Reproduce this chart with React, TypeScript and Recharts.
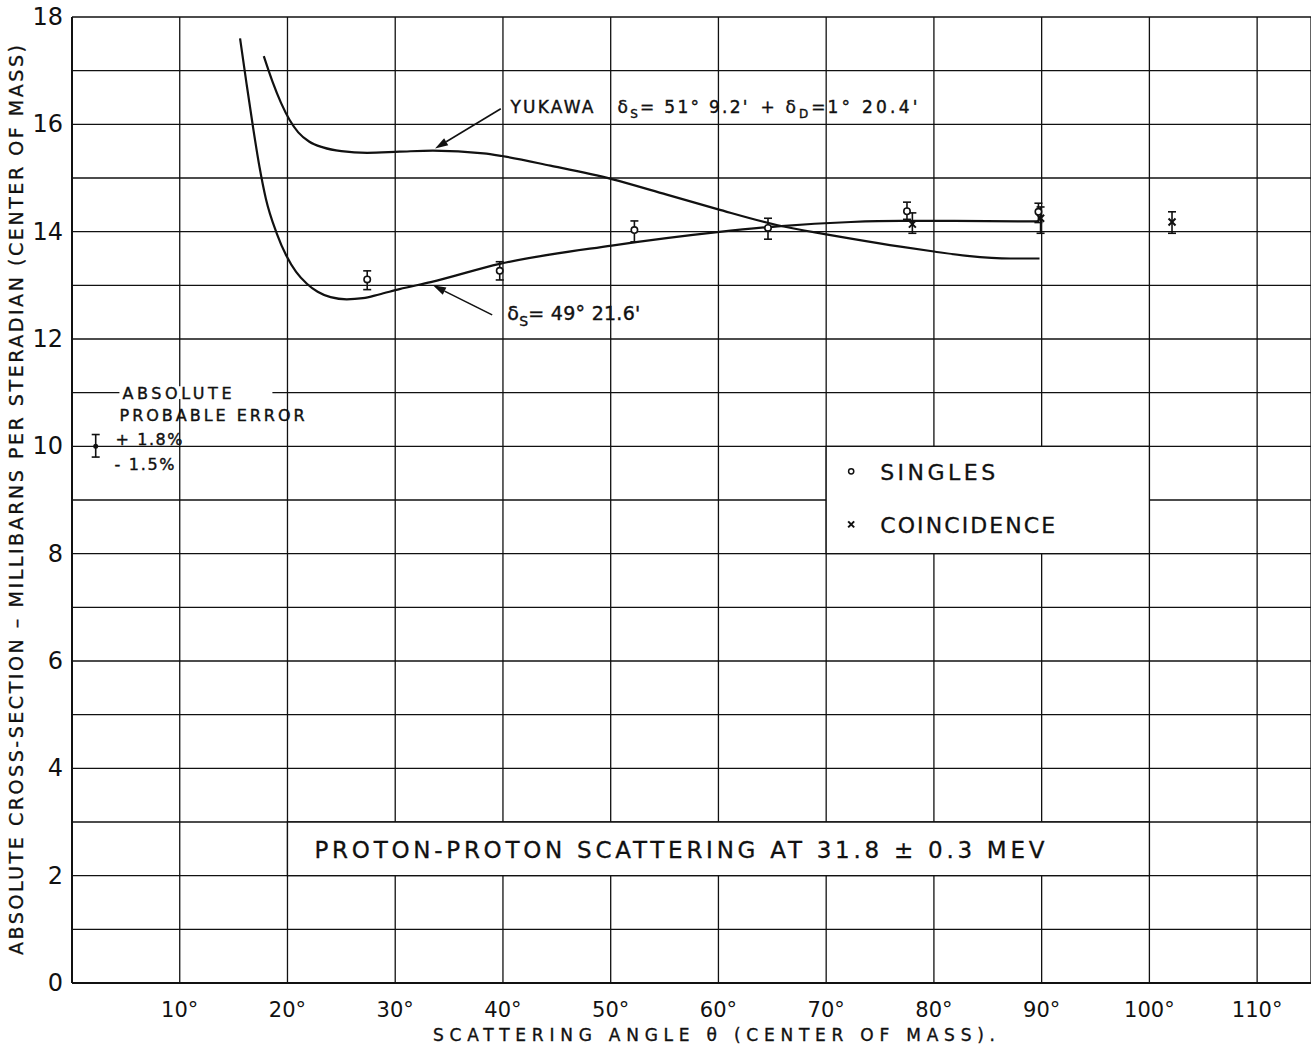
import React from 'react';
import {
  ComposedChart,
  Line,
  Scatter,
  XAxis,
  YAxis,
  CartesianGrid,
  ErrorBar,
  ReferenceArea,
  ReferenceDot,
  ReferenceLine,
  Label,
} from 'recharts';

const FONT = '"DejaVu Sans", "Liberation Sans", sans-serif';
const INK = '#111';

// axis ticks
const angleTicks = [10, 20, 30, 40, 50, 60, 70, 80, 90, 100, 110];
const sigmaTicks = [0, 1, 2, 3, 4, 5, 6, 7, 8, 9, 10, 11, 12, 13, 14, 15, 16, 17, 18];
const sigmaLabels = [0, 2, 4, 6, 8, 10, 12, 14, 16, 18];

// phase shift fit  deltaS = 49 deg 21.6'
const curveS = [
  { x: 15.6, y: 17.6 },
  { x: 16.2, y: 16.76 },
  { x: 16.8, y: 15.95 },
  { x: 17.4, y: 15.21 },
  { x: 18.0, y: 14.61 },
  { x: 19.0, y: 13.97 },
  { x: 19.9, y: 13.55 },
  { x: 20.8, y: 13.25 },
  { x: 21.8, y: 13.03 },
  { x: 22.8, y: 12.88 },
  { x: 24.0, y: 12.78 },
  { x: 25.5, y: 12.74 },
  { x: 27.0, y: 12.76 },
  { x: 28.5, y: 12.83 },
  { x: 30.4, y: 12.93 },
  { x: 33.3, y: 13.06 },
  { x: 39.7, y: 13.4 },
  { x: 50.1, y: 13.74 },
  { x: 59.9, y: 13.99 },
  { x: 65.5, y: 14.1 },
  { x: 72.3, y: 14.18 },
  { x: 76.9, y: 14.2 },
  { x: 80.0, y: 14.2 },
  { x: 89.6, y: 14.19 },
];

// Yukawa fit
const curveYukawa = [
  { x: 17.8, y: 17.27 },
  { x: 18.6, y: 16.8 },
  { x: 19.4, y: 16.4 },
  { x: 20.2, y: 16.08 },
  { x: 21.0, y: 15.85 },
  { x: 22.0, y: 15.68 },
  { x: 23.3, y: 15.57 },
  { x: 25.0, y: 15.5 },
  { x: 27.4, y: 15.47 },
  { x: 30.4, y: 15.49 },
  { x: 33.5, y: 15.51 },
  { x: 38.2, y: 15.46 },
  { x: 39.9, y: 15.41 },
  { x: 44.4, y: 15.23 },
  { x: 50.1, y: 14.98 },
  { x: 55.2, y: 14.69 },
  { x: 59.9, y: 14.42 },
  { x: 65.5, y: 14.12 },
  { x: 70.0, y: 13.95 },
  { x: 72.3, y: 13.87 },
  { x: 76.9, y: 13.72 },
  { x: 80.0, y: 13.63 },
  { x: 83.1, y: 13.55 },
  { x: 87.1, y: 13.5 },
  { x: 89.8, y: 13.5 },
];

// measured points, err = [below, above]
const singles = [
  { x: 27.4, y: 13.11, err: [0.19, 0.16] },
  { x: 39.7, y: 13.27, err: [0.17, 0.17] },
  { x: 52.2, y: 14.03, err: [0.22, 0.17] },
  { x: 64.6, y: 14.07, err: [0.21, 0.18] },
  { x: 77.5, y: 14.38, err: [0.15, 0.17] },
  { x: 89.7, y: 14.37, err: [0.2, 0.16] },
];
const coincidence = [
  { x: 78.0, y: 14.14, err: [0.17, 0.21] },
  { x: 89.9, y: 14.25, err: [0.28, 0.21] },
  { x: 102.1, y: 14.18, err: [0.21, 0.19] },
];
const probableError = [{ x: 2.2, y: 10.0, err: [0.2, 0.22] }];

const CircleMark = (p: any) => (
  <circle cx={p.cx} cy={p.cy} r={3.2} fill="#fff" stroke={INK} strokeWidth={1.6} />
);
const CrossMark = (p: any) => (
  <g stroke={INK} strokeWidth={2}>
    <line x1={p.cx - 3.5} y1={p.cy - 3.5} x2={p.cx + 3.5} y2={p.cy + 3.5} />
    <line x1={p.cx - 3.5} y1={p.cy + 3.5} x2={p.cx + 3.5} y2={p.cy - 3.5} />
  </g>
);
const DotMark = (p: any) => <circle cx={p.cx} cy={p.cy} r={2.5} fill={INK} />;

const Arrow = (p: any) => {
  const { x1, y1, x2, y2 } = p;
  const a = Math.atan2(y2 - y1, x2 - x1);
  const L = 13;
  const w = 4;
  const bx = x2 - L * Math.cos(a);
  const by = y2 - L * Math.sin(a);
  const nx = -Math.sin(a) * w;
  const ny = Math.cos(a) * w;
  return (
    <g>
      <line x1={x1} y1={y1} x2={bx} y2={by} stroke={INK} strokeWidth={1.6} />
      <polygon points={`${x2},${y2} ${bx + nx},${by + ny} ${bx - nx},${by - ny}`} fill={INK} />
    </g>
  );
};

const YTick = (p: any) => {
  const v = p.payload.value;
  if (!sigmaLabels.includes(v)) return <g />;
  return (
    <text x={p.x - 7} y={p.y + 8} textAnchor="end" fontFamily={FONT} fontSize={24} fill={INK}>
      {v}
    </text>
  );
};

const XTick = (p: any) => (
  <text x={p.x} y={p.y + 32} textAnchor="middle" fontFamily={FONT} fontSize={21} fill={INK}>
    {`${p.payload.value}°`}
  </text>
);

const YukawaLabel = (p: any) => {
  const x = p.viewBox.x;
  const y = p.viewBox.y + 6;
  return (
    <g fontFamily={FONT} fontSize={17} fill={INK} stroke={INK} strokeWidth={0.4}>
      <text x={x} y={y} textLength={83} lengthAdjust="spacing">YUKAWA</text>
      <text x={x + 107} y={y} textLength={130} lengthAdjust="spacing">
        δ<tspan fontSize={12} dy={5}>S</tspan>
        <tspan dy={-5}>= 51° 9.2'</tspan>
      </text>
      <text x={x + 250} y={y}>+</text>
      <text x={x + 275} y={y} textLength={40} lengthAdjust="spacing">
        δ<tspan fontSize={12} dy={5}>D</tspan>
        <tspan dy={-5}>=</tspan>
      </text>
      <text x={x + 317} y={y} textLength={90} lengthAdjust="spacing">1° 20.4'</text>
    </g>
  );
};

const DeltaSLabel = (p: any) => (
  <text
    x={p.viewBox.x}
    y={p.viewBox.y + 7}
    fontFamily={FONT}
    fontSize={19}
    fill={INK}
    stroke={INK}
    strokeWidth={0.4}
    textLength={133}
    lengthAdjust="spacing"
  >
    δ<tspan fontSize={14} dy={6}>S</tspan>
    <tspan dy={-6}>= 49° 21.6'</tspan>
  </text>
);

const ErrorNote = (p: any) => {
  const x = p.viewBox.x;
  const y = p.viewBox.y + 6;
  return (
    <g fontFamily={FONT} fontSize={16} fill={INK} stroke={INK} strokeWidth={0.4}>
      <text x={x + 1} y={y} textLength={109} lengthAdjust="spacing">ABSOLUTE</text>
      <text x={x - 2} y={y + 22} textLength={185} lengthAdjust="spacing">PROBABLE ERROR</text>
      <text x={x - 6} y={y + 46} textLength={67} lengthAdjust="spacing">+ 1.8%</text>
      <text x={x - 7} y={y + 71} textLength={60} lengthAdjust="spacing">- 1.5%</text>
    </g>
  );
};

const LegendBox = (p: any) => {
  const { x, y } = p.viewBox;
  return (
    <g fontFamily={FONT} fontSize={22} fill={INK}>
      <circle cx={x + 25} cy={y + 25} r={2.6} fill="#fff" stroke={INK} strokeWidth={1.5} />
      <text x={x + 54} y={y + 34} textLength={115} lengthAdjust="spacing" stroke={INK} strokeWidth={0.3}>
        SINGLES
      </text>
      <g stroke={INK} strokeWidth={2}>
        <line x1={x + 22} y1={y + 75} x2={x + 28} y2={y + 81} />
        <line x1={x + 22} y1={y + 81} x2={x + 28} y2={y + 75} />
      </g>
      <text x={x + 54} y={y + 87} textLength={175} lengthAdjust="spacing" stroke={INK} strokeWidth={0.3}>
        COINCIDENCE
      </text>
    </g>
  );
};

const TitleBox = (p: any) => {
  const { x, y } = p.viewBox;
  return (
    <text
      x={x + 27}
      y={y + 36}
      fontFamily={FONT}
      fontSize={23}
      fill={INK}
      stroke={INK}
      strokeWidth={0.3}
      textLength={730}
      lengthAdjust="spacing"
    >
      PROTON-PROTON  SCATTERING  AT  31.8  ±  0.3  MEV
    </text>
  );
};

const XLabel = (p: any) => {
  const { x, y } = p.viewBox;
  return (
    <text
      x={x + 361}
      y={y + 58}
      fontFamily={FONT}
      fontSize={17}
      fill={INK}
      stroke={INK}
      strokeWidth={0.35}
      textLength={562}
      lengthAdjust="spacing"
    >
      SCATTERING ANGLE θ (CENTER OF MASS).
    </text>
  );
};

const YLabel = (p: any) => {
  const { y, height } = p.viewBox;
  const cy = y + height / 2;
  return (
    <text
      x={23}
      y={cy}
      transform={`rotate(-90 23 ${cy})`}
      textAnchor="middle"
      fontFamily={FONT}
      fontSize={19}
      fill={INK}
      stroke={INK}
      strokeWidth={0.3}
      textLength={910}
      lengthAdjust="spacing"
    >
      ABSOLUTE CROSS-SECTION – MILLIBARNS PER STERADIAN (CENTER OF MASS)
    </text>
  );
};

export default function App() {
  return (
    <div style={{ background: '#fff' }}>
      <style>{'body{margin:0;background:#fff}'}</style>
      <ComposedChart width={1311} height={1048} margin={{ top: 17, right: 0, bottom: 0, left: 0 }}>
        <CartesianGrid stroke={INK} strokeWidth={1.3} />
        <XAxis
          type="number"
          dataKey="x"
          domain={[0, 115]}
          ticks={angleTicks}
          interval={0}
          allowDataOverflow
          height={65}
          tickSize={0}
          tickLine={false}
          axisLine={{ stroke: INK, strokeWidth: 2 }}
          tick={<XTick />}
        >
          <Label content={<XLabel />} />
        </XAxis>
        <YAxis
          type="number"
          dataKey="y"
          domain={[0, 18]}
          ticks={sigmaTicks}
          interval={0}
          allowDataOverflow
          width={72}
          tickSize={0}
          tickLine={false}
          axisLine={{ stroke: INK, strokeWidth: 2 }}
          tick={<YTick />}
        >
          <Label content={<YLabel />} />
        </YAxis>

        <ReferenceArea x1={4.4} x2={18.6} y1={10.88} y2={11.12} fill="#fff" fillOpacity={1} stroke="none" />
        <ReferenceArea
          x1={70}
          x2={100}
          y1={8}
          y2={10}
          fill="#fff"
          fillOpacity={1}
          stroke={INK}
          strokeWidth={1.3}
          label={(p: any) => <LegendBox {...p} />}
        />
        <ReferenceArea
          x1={20}
          x2={100}
          y1={2}
          y2={3}
          fill="#fff"
          fillOpacity={1}
          stroke={INK}
          strokeWidth={1.3}
          label={(p: any) => <TitleBox {...p} />}
        />

        <Line
          data={curveS}
          dataKey="y"
          type="monotone"
          stroke={INK}
          strokeWidth={2.2}
          dot={false}
          activeDot={false}
          isAnimationActive={false}
        />
        <Line
          data={curveYukawa}
          dataKey="y"
          type="monotone"
          stroke={INK}
          strokeWidth={2.2}
          dot={false}
          activeDot={false}
          isAnimationActive={false}
        />

        <Scatter data={singles} dataKey="y" shape={CircleMark} isAnimationActive={false}>
          <ErrorBar dataKey="err" direction="y" width={4} stroke={INK} strokeWidth={1.6} />
        </Scatter>
        <Scatter data={coincidence} dataKey="y" shape={CrossMark} isAnimationActive={false}>
          <ErrorBar dataKey="err" direction="y" width={4} stroke={INK} strokeWidth={1.6} />
        </Scatter>
        <Scatter data={probableError} dataKey="y" shape={DotMark} isAnimationActive={false}>
          <ErrorBar dataKey="err" direction="y" width={4} stroke={INK} strokeWidth={1.6} />
        </Scatter>

        <ReferenceLine
          segment={[{ x: 39.8, y: 16.29 }, { x: 33.7, y: 15.55 }]}
          ifOverflow="visible"
          shape={(p: any) => <Arrow {...p} />}
        />
        <ReferenceLine
          segment={[{ x: 39.0, y: 12.45 }, { x: 33.5, y: 13.0 }]}
          ifOverflow="visible"
          shape={(p: any) => <Arrow {...p} />}
        />

        <ReferenceDot x={40.7} y={16.32} r={0} stroke="none" label={(p: any) => <YukawaLabel {...p} />} />
        <ReferenceDot x={40.4} y={12.48} r={0} stroke="none" label={(p: any) => <DeltaSLabel {...p} />} />
        <ReferenceDot x={4.6} y={11.0} r={0} stroke="none" label={(p: any) => <ErrorNote {...p} />} />
      </ComposedChart>
    </div>
  );
}
